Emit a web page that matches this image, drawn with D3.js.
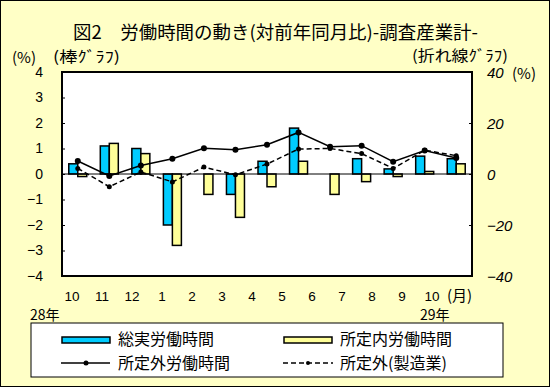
<!DOCTYPE html>
<html>
<head>
<meta charset="utf-8">
<script src="https://cdn.jsdelivr.net/npm/d3@7"></script>
<style>
  body { margin: 0; background: #fff; }
  text { font-family: "Noto Sans CJK JP", sans-serif; fill: #000; }
</style>
</head>
<body>
<svg id="grafico" width="550" height="387"></svg>
<script>
// datos
const meses = ["10", "11", "12", "1", "2", "3", "4", "5", "6", "7", "8", "9", "10"];
const soujitsu = [0.4, 1.1, 1.0, -2.0, 0.0, -0.8, 0.5, 1.8, 0.0, 0.6, 0.2, 0.7, 0.6];
const shoteinai = [-0.1, 1.2, 0.8, -2.8, -0.8, -1.7, -0.5, 0.5, -0.8, -0.3, -0.1, 0.1, 0.4];
const shoteigai = [5.1, -0.8, 3.3, 6.0, 10.1, 9.5, 11.5, 16.3, 10.7, 11.1, 4.8, 9.2, 6.3];
const seizougyou = [2.2, -5.0, 0.8, -3.1, 2.7, -0.3, 3.9, 9.8, 10.0, 8.0, 2.2, 9.3, 7.2];
const ticksIzq = [4, 3, 2, 1, 0, -1, -2, -3, -4];
const ticksDer = [40, 20, 0, -20, -40];

const svg = d3.select("#grafico");

svg.append("rect")
  .attr("x", 0.5).attr("y", 0.5).attr("width", 549).attr("height", 386)
  .attr("fill", "#FFFFC6").attr("stroke", "#000").attr("stroke-width", 1);

const izq = 62, der = 472, arriba = 72, abajo = 276;

const x = d3.scaleBand().domain(d3.range(meses.length)).range([izq, der]);
// las etiquetas del eje x no van centradas en las barras (como en el original)
const xEtiq = d3.scalePoint().domain(d3.range(meses.length)).range([72, 432]);
const y = d3.scaleLinear().domain([-4, 4]).range([abajo, arriba]);
const y2 = d3.scaleLinear().domain([-40, 40]).range([abajo, arriba]);

svg.append("rect")
  .attr("x", izq).attr("y", arriba).attr("width", der - izq).attr("height", abajo - arriba)
  .attr("fill", "#fff");

// titulo
svg.append("text").attr("x", 73).attr("y", 39)
  .attr("font-size", 18).text("図2　労働時間の動き(対前年同月比)-調査産業計-")
  .attr("textLength", 405).attr("lengthAdjust", "spacingAndGlyphs");
svg.append("text").attr("x", 12).attr("y", 63).attr("font-size", 15).text("(%)");
svg.append("text").attr("x", 53).attr("y", 62).attr("font-size", 15).text("(棒ｸﾞﾗﾌ)")
  .attr("textLength", 67).attr("lengthAdjust", "spacingAndGlyphs");
svg.append("text").attr("x", 412).attr("y", 61).attr("font-size", 15).text("(折れ線ｸﾞﾗﾌ)")
  .attr("textLength", 96).attr("lengthAdjust", "spacingAndGlyphs");
svg.append("text").attr("x", 512).attr("y", 79).attr("font-size", 15).text("(%)");

// ejes
const ejeIzq = d3.axisLeft(y).tickValues(ticksIzq).tickSize(-3).tickPadding(19);
const gIzq = svg.append("g").attr("transform", `translate(${izq},0)`).call(ejeIzq);
gIzq.select(".domain").remove();
gIzq.selectAll("text").attr("font-size", 14).attr("x", -19).attr("dy", "0.3em")
  .style("font-family", "Liberation Sans, sans-serif");
gIzq.selectAll("line").attr("stroke", "#000");

const ejeDer = d3.axisRight(y2).tickValues(ticksDer).tickSize(-3).tickPadding(15);
const gDer = svg.append("g").attr("transform", `translate(${der},0)`).call(ejeDer);
gDer.select(".domain").remove();
gDer.selectAll("text").attr("font-size", 15).attr("font-style", "italic").attr("x", 15)
  .attr("dy", "0.35em").style("font-family", "Liberation Sans, sans-serif");
gDer.selectAll("line").attr("stroke", "#000");

// barras
const anchoBarra = 9;
svg.append("g").selectAll("rect").data(soujitsu).join("rect")
  .attr("x", (d, i) => x(i) + x.bandwidth() / 2 - anchoBarra)
  .attr("y", d => y(Math.max(0, d)))
  .attr("width", anchoBarra)
  .attr("height", d => Math.abs(y(d) - y(0)))
  .attr("fill", "#00CCFF").attr("stroke", "#000").attr("stroke-width", 1.5);
svg.append("g").selectAll("rect").data(shoteinai).join("rect")
  .attr("x", (d, i) => x(i) + x.bandwidth() / 2)
  .attr("y", d => y(Math.max(0, d)))
  .attr("width", anchoBarra)
  .attr("height", d => Math.abs(y(d) - y(0)))
  .attr("fill", "#FFFF99").attr("stroke", "#000").attr("stroke-width", 1.5);

// linea cero
svg.append("line").attr("x1", izq).attr("x2", der).attr("y1", y(0)).attr("y2", y(0))
  .attr("stroke", "#000").attr("stroke-width", 1);

// lineas
const linea = d3.line().x((d, i) => x(i) + x.bandwidth() / 2).y(d => y2(d));
svg.append("path").datum(shoteigai).attr("d", linea)
  .attr("fill", "none").attr("stroke", "#000").attr("stroke-width", 1.5);
svg.append("path").datum(seizougyou).attr("d", linea)
  .attr("fill", "none").attr("stroke", "#000").attr("stroke-width", 1.5).attr("stroke-dasharray", "5,3");
svg.append("g").selectAll("circle").data(shoteigai).join("circle")
  .attr("cx", (d, i) => x(i) + x.bandwidth() / 2).attr("cy", d => y2(d)).attr("r", 3).attr("fill", "#000");
svg.append("g").selectAll("circle").data(seizougyou).join("circle")
  .attr("cx", (d, i) => x(i) + x.bandwidth() / 2).attr("cy", d => y2(d)).attr("r", 2.5).attr("fill", "#000");

// marco del area
svg.append("rect")
  .attr("x", izq).attr("y", arriba).attr("width", der - izq).attr("height", abajo - arriba)
  .attr("fill", "none").attr("stroke", "#000").attr("stroke-width", 2);

// etiquetas del eje x
svg.append("g").selectAll("text").data(meses).join("text")
  .attr("x", (d, i) => xEtiq(i)).attr("y", 301)
  .attr("text-anchor", "middle").attr("font-size", 13.5)
  .style("font-family", "Liberation Sans, sans-serif").text(d => d);
svg.append("text").attr("x", 447).attr("y", 301).attr("font-size", 15).text("(月)");
svg.append("text").attr("x", 30).attr("y", 320).attr("font-size", 14).text("28年");
svg.append("text").attr("x", 420).attr("y", 320).attr("font-size", 14).text("29年");

// leyenda
svg.append("rect").attr("x", 31).attr("y", 323).attr("width", 472).attr("height", 54)
  .attr("fill", "#fff").attr("stroke", "#000").attr("stroke-width", 1);
svg.append("rect").attr("x", 62).attr("y", 337).attr("width", 48).attr("height", 6)
  .attr("fill", "#00CCFF").attr("stroke", "#000").attr("stroke-width", 1.5);
svg.append("rect").attr("x", 284).attr("y", 337).attr("width", 48).attr("height", 6)
  .attr("fill", "#FFFF99").attr("stroke", "#000").attr("stroke-width", 1.5);
svg.append("line").attr("x1", 61).attr("x2", 110).attr("y1", 363).attr("y2", 363)
  .attr("stroke", "#000").attr("stroke-width", 1.5);
svg.append("circle").attr("cx", 86).attr("cy", 363).attr("r", 2.5).attr("fill", "#000");
svg.append("line").attr("x1", 283).attr("x2", 333).attr("y1", 363).attr("y2", 363)
  .attr("stroke", "#000").attr("stroke-width", 1.5).attr("stroke-dasharray", "5,3");
svg.append("circle").attr("cx", 308).attr("cy", 363).attr("r", 2).attr("fill", "#000");
const leyenda = [["総実労働時間", 118, 345], ["所定内労働時間", 340, 345],
  ["所定外労働時間", 118, 369], ["所定外(製造業)", 340, 369]];
leyenda.forEach(l => {
  svg.append("text").attr("x", l[1]).attr("y", l[2]).attr("font-size", 16).text(l[0]);
});
</script>
</body>
</html>
